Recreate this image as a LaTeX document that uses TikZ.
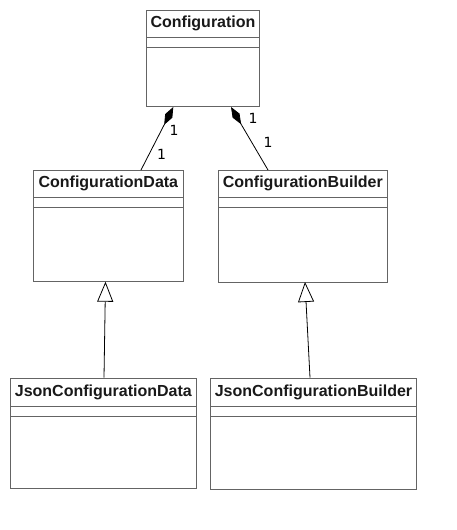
\documentclass[tikz,border=0pt]{standalone}
\usepackage{fontspec}
\setmainfont{Liberation Sans}
\newfontfamily\labelfont{DejaVu Sans}
\usetikzlibrary{arrows.meta,calc}
\definecolor{boxgray}{RGB}{100,100,100}
\tikzset{
  classbox/.style={draw=boxgray, line width=1pt, fill=white, anchor=north west, inner sep=0pt},
  classname/.style={font=\bfseries\fontsize{16}{18}\selectfont, text=black!90, inner sep=0pt},
  divider/.style={draw=boxgray, line width=1pt},
  composition/.style={draw=black, line width=0.8pt, {Diamond[length=20pt,width=8pt,fill=black]}-},
  inheritance/.style={draw=black, line width=0.8pt, -{Triangle[open,length=20pt,width=16pt,fill=white]}},
  mult/.style={font=\labelfont\fontsize{14}{16}\selectfont, inner sep=0pt}
}
\begin{document}
\begin{tikzpicture}[x=1pt,y=-1pt]
\useasboundingbox (0,0) rectangle (456,530);
% Configuration
\node[classbox, minimum width=113pt, minimum height=96pt] (cfg) at (146,10) {};
\node[classname] (cfgt) at ($(cfg.north)+(0,13.8)$) {Configuration};
\draw[divider] ($(cfg.north west)+(0,27.7)$) -- ($(cfg.north east)+(0,27.7)$);
\draw[divider] ($(cfg.north west)+(0,37.7)$) -- ($(cfg.north east)+(0,37.7)$);
% ConfigurationData
\node[classbox, minimum width=149.7pt, minimum height=110.7pt] (cd) at (33,170) {};
\node[classname] (cdt) at ($(cd.north)+(0,13.8)$) {ConfigurationData};
\draw[divider] ($(cd.north west)+(0,27.7)$) -- ($(cd.north east)+(0,27.7)$);
\draw[divider] ($(cd.north west)+(0,37.7)$) -- ($(cd.north east)+(0,37.7)$);
% ConfigurationBuilder
\node[classbox, minimum width=168.7pt, minimum height=111.7pt] (cb) at (218,170) {};
\node[classname] (cbt) at ($(cb.north)+(0,13.8)$) {ConfigurationBuilder};
\draw[divider] ($(cb.north west)+(0,27.7)$) -- ($(cb.north east)+(0,27.7)$);
\draw[divider] ($(cb.north west)+(0,37.7)$) -- ($(cb.north east)+(0,37.7)$);
% JsonConfigurationData
\node[classbox, minimum width=185.7pt, minimum height=110.6pt] (jcd) at (10,377.7) {};
\node[classname] (jcdt) at ($(jcd.north)+(0,14.2)$) {JsonConfigurationData};
\draw[divider] ($(jcd.north west)+(0,28.3)$) -- ($(jcd.north east)+(0,28.3)$);
\draw[divider] ($(jcd.north west)+(0,38.3)$) -- ($(jcd.north east)+(0,38.3)$);
% JsonConfigurationBuilder
\node[classbox, minimum width=206pt, minimum height=111.6pt] (jcb) at (210,377.7) {};
\node[classname] (jcbt) at ($(jcb.north)+(0,14.2)$) {JsonConfigurationBuilder};
\draw[divider] ($(jcb.north west)+(0,28.3)$) -- ($(jcb.north east)+(0,28.3)$);
\draw[divider] ($(jcb.north west)+(0,38.3)$) -- ($(jcb.north east)+(0,38.3)$);
% connector end points
\coordinate (cfgL) at ($(cfg.south west)+(27.3,0)$);
\coordinate (cfgR) at ($(cfg.south west)+(85,0)$);
\coordinate (cdTop) at ($(cd.north west)+(108,0)$);
\coordinate (cbTop) at ($(cb.north west)+(50,0)$);
\coordinate (cdBot) at ($(cd.south west)+(72.5,0)$);
\coordinate (cbBot) at ($(cb.south west)+(87,-0.7)$);
\coordinate (jcdTop) at ($(jcd.north west)+(94,0)$);
\coordinate (jcbTop) at ($(jcb.north west)+(100,0)$);
% compositions
\draw[composition] (cfgL) -- (cdTop);
\draw[composition] (cfgR) -- (cbTop);
\node[mult] (m1) at (174,130.5) {1};
\node[mult] (m2) at (161.7,154.5) {1};
\node[mult] (m3) at (253,118.5) {1};
\node[mult] (m4) at (268,142.5) {1};
% inheritance
\draw[inheritance] (jcdTop) -- (cdBot);
\draw[inheritance] (jcbTop) -- (cbBot);
\end{tikzpicture}
\end{document}
